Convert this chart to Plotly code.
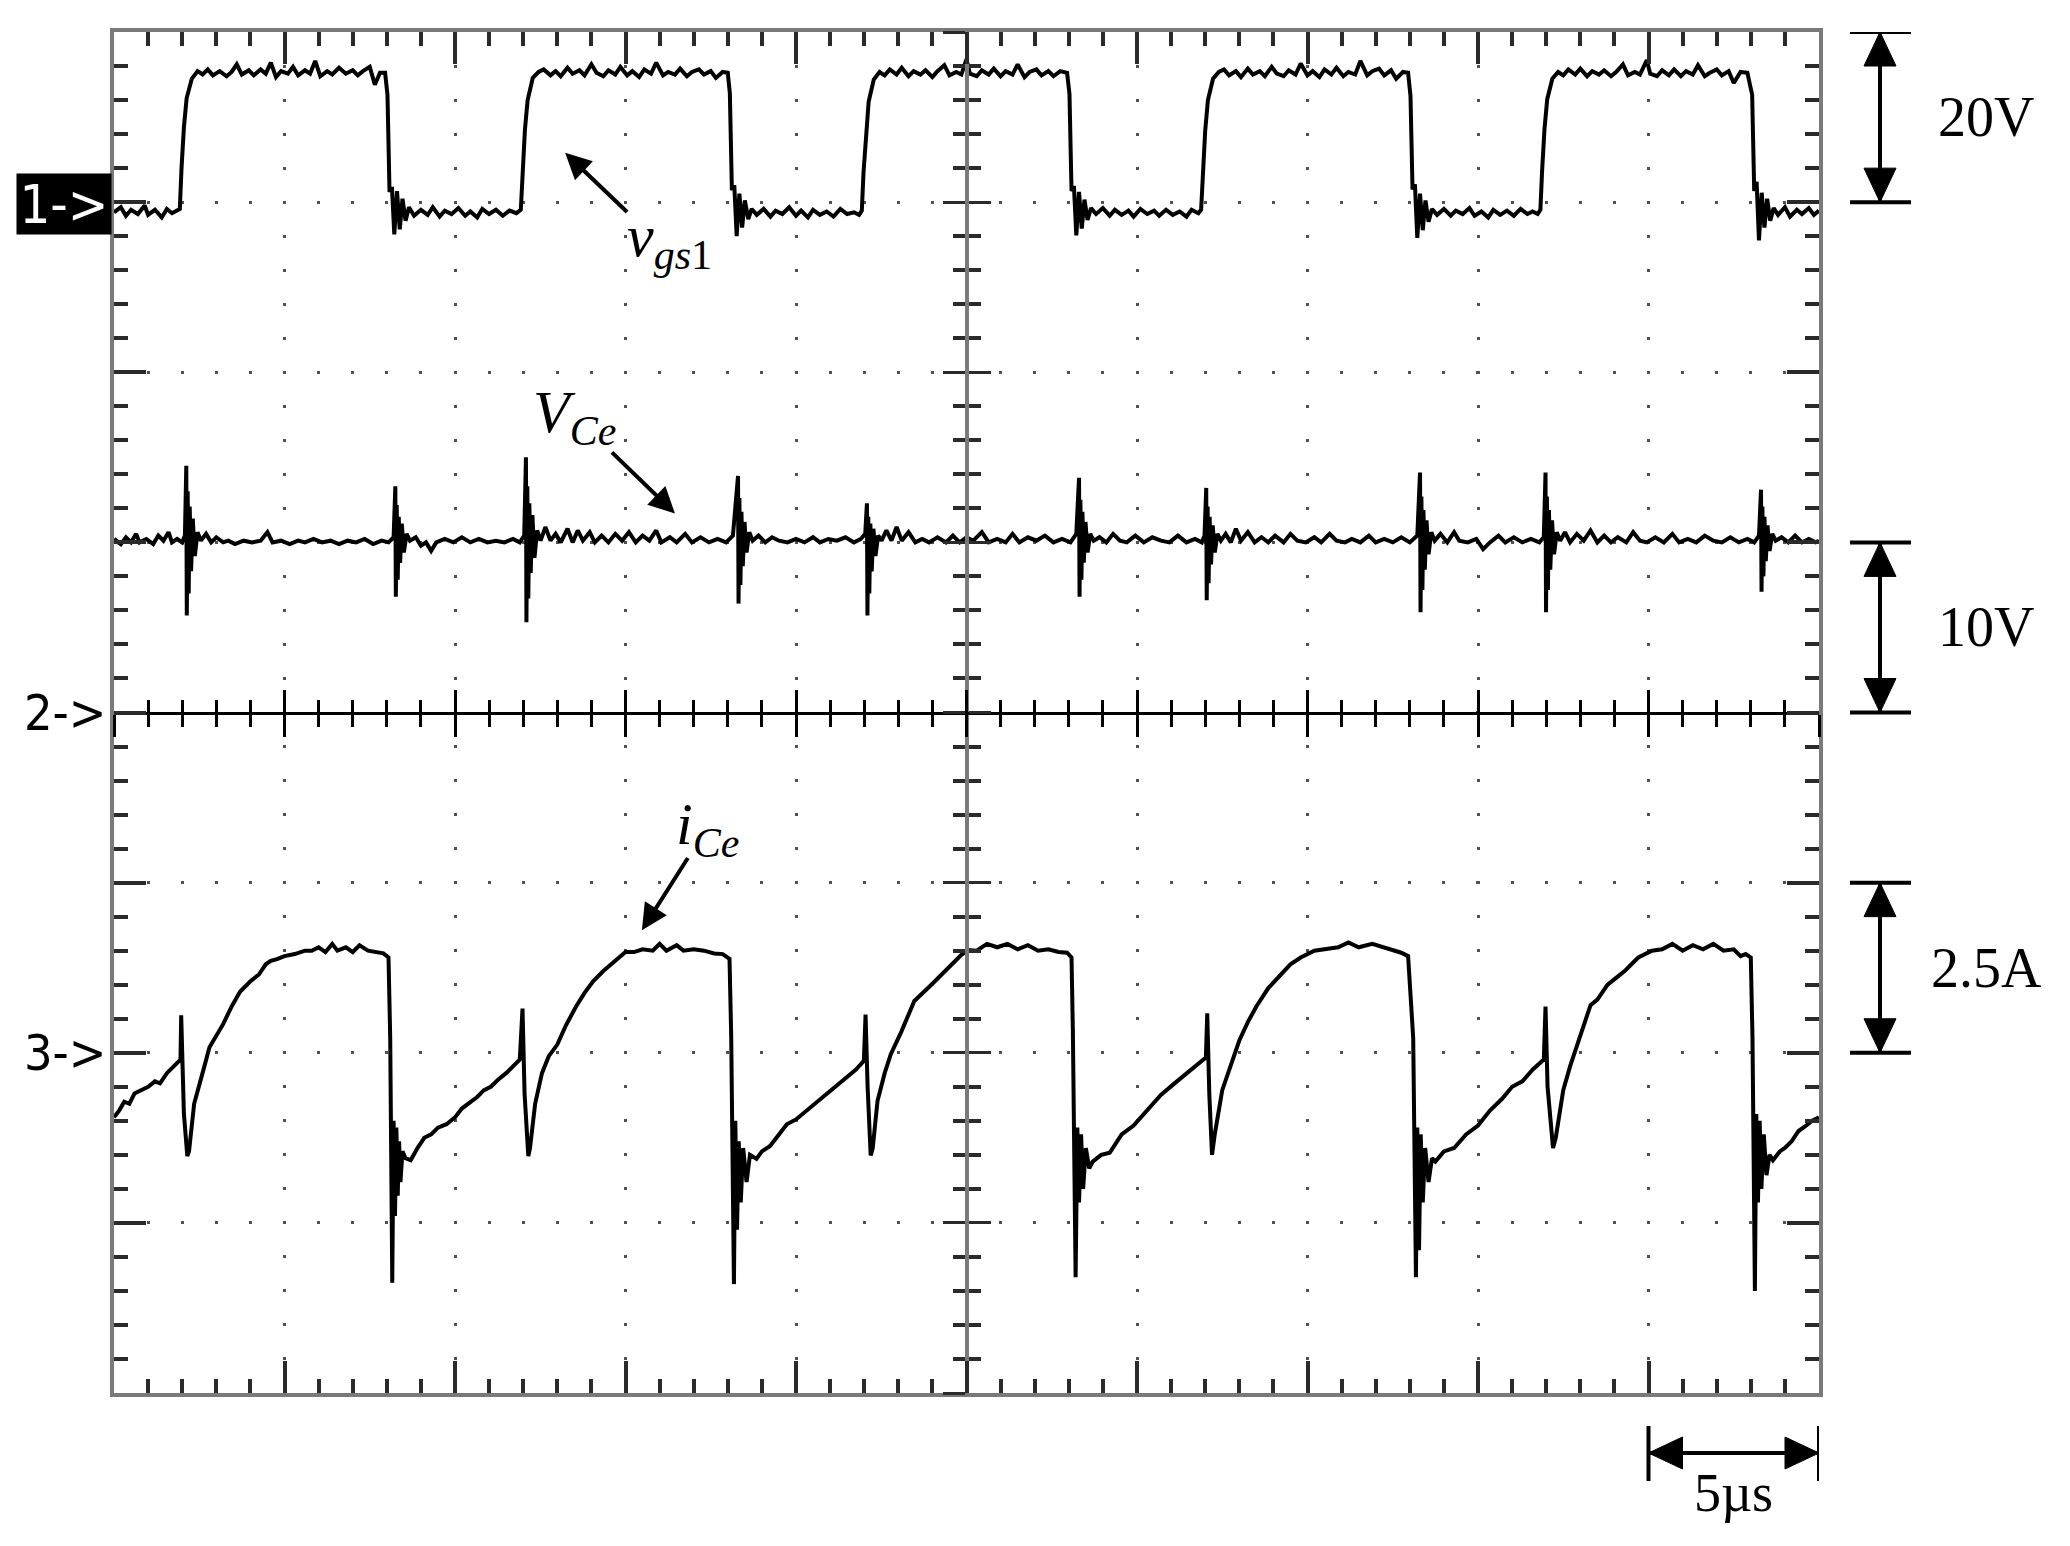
import plotly.graph_objects as go

# time base: 5 us/div, ten divisions
time_range = [0, 50]

# ch1 v_gs1 [V], 20 V/div, ground one division below the top
vgs_t = [0.0, 0.2, 0.35, 0.5, 0.7, 0.9, 1.0, 1.2, 1.4, 1.55, 1.7, 1.85,
         1.93, 1.98, 2.05, 2.13, 2.28, 2.45,
         2.6, 2.75, 2.9, 3.1, 3.3, 3.45, 3.6, 3.75, 3.95, 4.1, 4.3, 4.45, 4.6, 4.75, 4.9, 5.1, 5.25,
         5.4, 5.6, 5.75, 5.9, 6.05, 6.25, 6.4, 6.6, 6.8, 7.0, 7.15, 7.3, 7.5, 7.65, 7.8, 7.95,
         8.02, 8.08, 8.15, 8.22, 8.3, 8.38, 8.46, 8.55, 8.65,
         8.8, 9.0, 9.2, 9.35, 9.55, 9.7, 9.9, 10.1, 10.3, 10.45, 10.65, 10.8, 11.0, 11.2, 11.4, 11.6, 11.8,
         11.93, 11.98, 12.05, 12.13, 12.28, 12.45,
         12.6, 12.8, 12.95, 13.1, 13.3, 13.45, 13.65, 13.8, 14.0, 14.15, 14.35, 14.5, 14.7, 14.85, 15.05, 15.2,
         15.4, 15.55, 15.75, 15.9, 16.1, 16.25, 16.45, 16.6, 16.8, 16.95, 17.15, 17.3, 17.5, 17.65, 17.85, 18.0,
         18.06, 18.12, 18.19, 18.26, 18.34, 18.42, 18.5, 18.6, 18.7,
         18.85, 19.05, 19.25, 19.4, 19.6, 19.8, 20.0, 20.15, 20.35, 20.5, 20.7, 20.9, 21.1, 21.3, 21.5, 21.7, 21.85,
         21.93, 21.98, 22.05, 22.13, 22.28, 22.45,
         22.6, 22.75, 22.95, 23.1, 23.3, 23.45, 23.65, 23.8, 24.0, 24.15, 24.35, 24.5, 24.7, 24.85, 25.0, 25.1,
         25.3, 25.45, 25.65, 25.8, 26.0, 26.15, 26.35, 26.5, 26.7, 26.85, 27.05, 27.2, 27.4, 27.55, 27.75, 27.95,
         28.02, 28.08, 28.15, 28.22, 28.3, 28.38, 28.46, 28.55, 28.65,
         28.8, 29.0, 29.2, 29.35, 29.55, 29.75, 29.9, 30.1, 30.3, 30.5, 30.65, 30.85, 31.05, 31.25, 31.45, 31.6, 31.8,
         31.88, 31.93, 32.0, 32.08, 32.23, 32.4,
         32.55, 32.7, 32.9, 33.05, 33.25, 33.4, 33.6, 33.75, 33.95, 34.1, 34.3, 34.45, 34.65, 34.8, 35.0, 35.15,
         35.35, 35.5, 35.7, 35.85, 36.05, 36.2, 36.4, 36.55, 36.75, 36.9, 37.1, 37.25, 37.45, 37.6, 37.8, 37.95,
         38.02, 38.08, 38.15, 38.22, 38.3, 38.38, 38.46, 38.55, 38.65,
         38.8, 39.0, 39.2, 39.35, 39.55, 39.75, 39.9, 40.1, 40.3, 40.45, 40.65, 40.85, 41.05, 41.25, 41.45, 41.6, 41.75,
         41.83, 41.88, 41.95, 42.03, 42.18, 42.35,
         42.5, 42.65, 42.85, 43.0, 43.2, 43.35, 43.55, 43.7, 43.9, 44.05, 44.25, 44.4, 44.6, 44.75, 44.95, 45.05,
         45.25, 45.4, 45.6, 45.75, 45.95, 46.1, 46.3, 46.45, 46.65, 46.8, 47.0, 47.15, 47.35, 47.5, 47.7, 47.9,
         48.04, 48.1, 48.17, 48.24, 48.32, 48.4, 48.48, 48.57, 48.67,
         48.8, 49.0, 49.15, 49.35, 49.5, 49.7, 49.85, 50.0]
vgs_v = [-1.2, -0.6, -1.6, -0.9, -1.4, -0.4, -1.5, -0.9, -1.8, -0.8, -1.3, -1.0,
         -0.8, 4.0, 8.8, 12.2, 14.5, 15.4,
         15.0, 15.6, 14.9, 15.4, 14.8, 15.3, 16.2, 15.0, 15.5, 14.9, 15.6, 15.1, 16.4, 14.7, 15.4, 15.1, 15.9,
         14.9, 15.5, 15.1, 16.6, 14.8, 15.4, 15.0, 15.8, 15.1, 15.5, 14.9, 15.4, 15.9, 13.8, 15.2, 15.2,
         12.6, 1.2, 1.8, -3.8, 1.3, -3.2, 0.4, -2.2, -0.6,
         -1.6, -0.9, -1.5, -0.6, -1.7, -1.0, -1.4, -0.7, -1.6, -1.1, -1.8, -0.8, -1.4, -0.9, -1.6, -1.0, -1.3,
         -0.9, 3.8, 8.5, 12.0, 14.6, 15.3,
         15.6, 14.9, 15.4, 14.8, 15.8, 15.1, 15.5, 14.9, 16.2, 15.2, 14.8, 15.5, 15.0, 15.9, 14.9, 15.4,
         14.7, 15.6, 15.1, 16.4, 14.9, 15.3, 15.0, 15.7, 14.8, 15.3, 15.6, 15.0, 15.4, 14.6, 15.3, 15.2,
         12.8, 1.4, 2.0, -4.0, 1.0, -3.0, 0.2, -2.0, -0.8,
         -1.5, -0.8, -1.7, -1.0, -1.4, -0.6, -1.6, -1.0, -1.8, -0.9, -1.5, -1.1, -1.7, -0.8, -1.4, -1.2, -1.5,
         -1.0, 3.5, 8.2, 11.8, 14.4, 15.3,
         14.9, 15.6, 15.0, 15.8, 14.8, 15.4, 15.0, 15.5, 14.7, 15.4, 16.1, 14.9, 15.3, 15.0, 16.8, 15.1,
         14.8, 15.5, 15.0, 15.7, 14.8, 15.4, 15.0, 16.2, 14.7, 15.3, 15.6, 14.9, 15.4, 14.8, 15.4, 15.2,
         12.7, 1.3, 1.9, -3.9, 1.2, -3.1, 0.3, -2.1, -0.7,
         -1.4, -0.7, -1.6, -0.9, -1.5, -1.0, -1.7, -0.8, -1.4, -1.0, -1.6, -0.9, -1.5, -1.1, -1.7, -0.9, -1.3,
         -0.9, 3.6, 8.4, 12.0, 14.5, 15.3,
         15.6, 14.9, 15.4, 14.7, 15.7, 15.0, 15.4, 14.8, 15.9, 15.1, 14.8, 15.5, 15.0, 16.3, 14.9, 15.4,
         14.7, 15.6, 15.0, 15.8, 14.8, 15.3, 15.0, 16.6, 14.9, 15.4, 15.7, 14.9, 15.5, 14.5, 15.3, 15.2,
         12.5, 1.5, 2.1, -4.2, 1.0, -3.3, 0.2, -2.3, -0.8,
         -1.5, -0.8, -1.6, -1.0, -1.4, -0.7, -1.6, -1.1, -1.8, -0.9, -1.5, -1.0, -1.6, -0.8, -1.4, -1.1, -1.4,
         -0.9, 3.7, 8.6, 12.1, 14.5, 15.3,
         14.9, 15.6, 15.0, 15.7, 14.8, 15.4, 15.0, 15.5, 14.8, 15.3, 16.2, 14.9, 15.3, 15.0, 16.7, 15.1,
         14.8, 15.5, 14.9, 15.6, 14.8, 15.4, 15.0, 16.1, 14.8, 15.2, 15.6, 14.9, 15.4, 14.0, 15.3, 15.2,
         12.6, 1.3, 2.4, -4.5, 1.1, -3.0, 0.4, -2.2, -0.7,
         -1.5, -0.6, -1.7, -0.9, -1.4, -0.7, -1.5, -1.0]

# ch2 V_Ce [V], 10 V/div, ground on the centre line
vce_t = [0.0, 0.2, 0.35, 0.5, 0.65, 0.75, 0.95, 1.15, 1.3, 1.45, 1.6, 1.7, 1.85, 2.0, 2.08,
         2.12, 2.135, 2.16, 2.19, 2.22, 2.26, 2.31, 2.37, 2.45, 2.55,
         2.7, 2.85, 3.0, 3.2, 3.35, 3.55, 3.8, 4.05, 4.3, 4.5, 4.65, 4.9, 5.15, 5.4, 5.6, 5.85, 6.1, 6.35,
         6.6, 6.85, 7.1, 7.35, 7.6, 7.85, 8.05, 8.2,
         8.25, 8.265, 8.29, 8.32, 8.35, 8.39, 8.44, 8.5, 8.58, 8.68,
         8.85, 9.0, 9.15, 9.3, 9.45, 9.7, 9.95, 10.2, 10.45, 10.7, 10.95, 11.2, 11.45, 11.7, 11.9, 12.03,
         12.08, 12.095, 12.12, 12.15, 12.18, 12.22, 12.27, 12.33, 12.41, 12.51,
         12.65, 12.8, 12.95, 13.1, 13.3, 13.45, 13.6, 13.75, 13.95, 14.1, 14.3, 14.5, 14.7, 14.9, 15.1, 15.3,
         15.5, 15.7, 15.9, 16.05, 16.3, 16.5, 16.75, 16.95, 17.2, 17.45, 17.7, 17.95, 18.15,
         18.3, 18.315, 18.34, 18.37, 18.4, 18.44, 18.49, 18.55, 18.63, 18.73,
         18.9, 19.1, 19.3, 19.5, 19.75, 20.0, 20.25, 20.5, 20.7, 20.95, 21.2, 21.45, 21.7, 21.9, 22.03,
         22.08, 22.095, 22.12, 22.15, 22.18, 22.22, 22.27, 22.33, 22.41, 22.51,
         22.65, 22.8, 22.95, 23.1, 23.3, 23.5, 23.7, 23.9, 24.15, 24.4, 24.6, 24.8, 25.0, 25.2, 25.45, 25.65,
         25.9, 26.15, 26.35, 26.55, 26.8, 27.05, 27.3, 27.55, 27.8, 28.05, 28.22,
         28.3, 28.315, 28.34, 28.37, 28.4, 28.44, 28.49, 28.55, 28.63, 28.73,
         28.9, 29.1, 29.3, 29.5, 29.7, 29.95, 30.2, 30.45, 30.7, 30.95, 31.2, 31.45, 31.7, 31.9, 31.98,
         32.03, 32.045, 32.07, 32.1, 32.13, 32.17, 32.22, 32.28, 32.36, 32.46,
         32.6, 32.75, 32.9, 33.05, 33.25, 33.45, 33.65, 33.85, 34.05, 34.3, 34.5, 34.7, 34.95, 35.2, 35.4, 35.65,
         35.85, 36.1, 36.3, 36.55, 36.8, 37.0, 37.25, 37.5, 37.75, 38.0, 38.22,
         38.3, 38.315, 38.34, 38.37, 38.4, 38.44, 38.49, 38.55, 38.63, 38.73,
         38.9, 39.1, 39.3, 39.45, 39.7, 39.95, 40.15, 40.35, 40.6, 40.8, 41.05, 41.3, 41.55, 41.8, 41.93,
         41.98, 41.995, 42.02, 42.05, 42.08, 42.12, 42.17, 42.23, 42.31, 42.41,
         42.55, 42.7, 42.9, 43.1, 43.3, 43.5, 43.7, 43.9, 44.1, 44.35, 44.55, 44.75, 44.95, 45.2, 45.45, 45.7,
         45.9, 46.15, 46.4, 46.65, 46.9, 47.15, 47.4, 47.65, 47.9, 48.1, 48.24,
         48.3, 48.315, 48.34, 48.37, 48.4, 48.44, 48.49, 48.55, 48.63, 48.73,
         48.9, 49.1, 49.3, 49.5, 49.7, 49.9, 50.0]
vce_v = [10.2, 9.9, 10.3, 10.0, 10.5, 10.0, 10.2, 9.9, 10.4, 10.1, 10.6, 10.0, 10.2, 10.0, 10.4,
         14.5, 5.7, 13.0, 7.0, 12.1, 8.3, 11.4, 9.2, 10.6, 10.1,
         10.5, 10.0, 10.3, 10.0, 10.1, 9.9, 10.1, 10.0, 10.1, 10.6, 10.0, 10.1, 9.9, 10.1, 10.0, 10.2, 10.0, 10.1,
         9.9, 10.1, 10.0, 10.2, 9.9, 10.1, 10.0, 10.3,
         13.3, 6.8, 12.2, 7.8, 11.5, 8.8, 11.1, 9.4, 10.5, 10.1,
         10.3, 9.8, 10.0, 9.5, 10.0, 10.2, 10.0, 10.3, 10.0, 10.2, 10.0, 10.1, 10.0, 10.2, 10.0, 10.4,
         15.0, 5.3, 13.3, 6.7, 12.3, 8.2, 11.6, 9.1, 10.7, 10.1,
         10.9, 10.1, 10.5, 10.0, 10.8, 10.0, 10.7, 10.1, 10.6, 10.0, 10.4, 10.0, 10.5, 10.1, 10.6, 10.0,
         10.4, 10.1, 10.7, 10.0, 10.3, 10.0, 10.5, 10.0, 10.3, 10.0, 10.2, 10.0, 10.4,
         13.9, 6.4, 12.6, 7.5, 11.8, 8.6, 11.2, 9.4, 10.6, 10.1,
         10.4, 10.0, 10.3, 10.1, 10.0, 10.2, 10.0, 10.3, 10.0, 10.2, 10.1, 10.3, 10.0, 10.2, 10.5,
         12.3, 5.7, 11.5, 7.0, 11.1, 8.3, 10.8, 9.2, 10.4, 10.1,
         10.7, 10.1, 10.9, 10.1, 10.6, 10.0, 10.2, 10.0, 10.3, 10.0, 10.4, 10.0, 10.3, 10.1, 10.6, 10.0,
         10.2, 10.0, 10.5, 10.0, 10.3, 10.1, 10.4, 10.0, 10.2, 10.0, 10.5,
         13.8, 6.8, 12.5, 7.8, 11.8, 8.8, 11.2, 9.4, 10.5, 10.1,
         10.3, 10.0, 10.5, 10.1, 10.0, 10.4, 10.0, 10.3, 10.1, 10.0, 10.4, 10.0, 10.2, 10.0, 10.4,
         13.2, 6.6, 12.1, 7.6, 11.5, 8.7, 11.0, 9.4, 10.5, 10.1,
         10.5, 10.0, 10.8, 10.1, 10.6, 10.0, 10.3, 10.0, 10.4, 10.0, 10.5, 10.1, 10.0, 10.3, 10.0, 10.5,
         10.1, 10.0, 10.2, 10.0, 10.4, 10.0, 10.2, 10.0, 10.3, 10.0, 10.4,
         14.1, 5.9, 12.7, 7.2, 11.9, 8.4, 11.3, 9.3, 10.6, 10.1,
         10.5, 10.0, 10.6, 10.1, 10.0, 10.2, 9.6, 10.0, 10.4, 10.0, 10.3, 10.0, 10.2, 10.0, 10.3,
         14.1, 5.9, 12.7, 7.2, 11.9, 8.4, 11.3, 9.3, 10.6, 10.1,
         10.6, 10.0, 10.5, 10.1, 10.7, 10.0, 10.4, 10.0, 10.3, 10.0, 10.6, 10.1, 10.0, 10.3, 10.0, 10.5,
         10.0, 10.2, 10.0, 10.4, 10.1, 10.0, 10.3, 10.0, 10.2, 10.0, 10.4,
         13.1, 7.1, 12.1, 8.0, 11.5, 8.9, 11.0, 9.5, 10.5, 10.1,
         10.3, 10.0, 10.4, 10.0, 10.2, 10.0, 10.1]

# ch3 i_Ce [A], 2.5 A/div, ground two divisions above the bottom
ice_t = [0.0, 0.15, 0.3, 0.45, 0.6, 0.8, 1.0, 1.2, 1.35, 1.55, 1.75, 1.9,
         1.95, 1.97, 2.05, 2.15, 2.2, 2.35, 2.5, 2.65, 2.8, 3.0, 3.2, 3.45, 3.7, 4.0, 4.25, 4.45, 4.6, 4.8,
         5.0, 5.3, 5.6, 5.8, 6.0, 6.2, 6.4, 6.55, 6.8, 7.0, 7.2, 7.45, 7.7, 7.9, 8.05,
         8.1, 8.16, 8.2, 8.24, 8.28, 8.32, 8.36, 8.4, 8.46, 8.55, 8.7, 8.9, 9.1, 9.3, 9.5, 9.75, 10.0, 10.2,
         10.4, 10.65, 10.85, 11.05, 11.3, 11.5, 11.7, 11.9,
         11.98, 12.04, 12.15, 12.2, 12.35, 12.55, 12.75, 13.0, 13.25, 13.55, 13.8, 14.05, 14.35, 14.7, 15.0,
         15.25, 15.5, 15.8, 16.0, 16.2, 16.5, 16.7, 17.0, 17.3, 17.6, 17.85, 18.05,
         18.1, 18.18, 18.22, 18.27, 18.32, 18.38, 18.45, 18.55, 18.65, 18.84, 19.0, 19.24, 19.5, 19.73, 20.0,
         20.32, 20.6, 20.91, 21.2, 21.5, 21.75, 21.99,
         22.04, 22.1, 22.19, 22.25, 22.39, 22.6, 22.78, 23.08, 23.47, 23.97, 24.46, 24.85, 25.05, 25.3, 25.6,
         25.9, 26.2, 26.5, 26.8, 27.1, 27.4, 27.7, 27.95, 28.08,
         28.12, 28.2, 28.25, 28.3, 28.36, 28.42, 28.5, 28.6, 28.7, 28.95, 29.2, 29.55, 29.9, 30.3, 30.7,
         31.1, 31.45, 31.8, 32.02,
         32.06, 32.12, 32.2, 32.28, 32.5, 32.75, 33.0, 33.25, 33.5, 33.85, 34.2, 34.5, 34.8, 35.2, 35.5,
         35.9, 36.2, 36.5, 36.9, 37.2, 37.5, 37.75, 37.95,
         38.1, 38.18, 38.22, 38.27, 38.32, 38.38, 38.45, 38.55, 38.65, 38.75, 39.0, 39.3, 39.65, 40.0, 40.35,
         40.7, 41.0, 41.3, 41.6, 41.93,
         41.98, 42.04, 42.2, 42.28, 42.5, 42.7, 42.9, 43.1, 43.3, 43.5, 43.8, 44.05, 44.3, 44.5, 44.7,
         45.1, 45.4, 45.7, 46.0, 46.3, 46.6, 46.9, 47.2, 47.5, 47.7, 47.85, 48.0,
         48.05, 48.12, 48.16, 48.21, 48.26, 48.31, 48.38, 48.46, 48.55, 48.65, 48.85, 49.0, 49.2, 49.4,
         49.6, 49.8, 50.0]
ice_v = [-0.95, -0.85, -0.72, -0.75, -0.6, -0.55, -0.5, -0.42, -0.45, -0.3, -0.2, -0.12,
         -0.1, 0.55, -0.9, -1.52, -1.45, -0.75, -0.45, -0.2, 0.08, 0.25, 0.42, 0.68, 0.9, 1.05, 1.15, 1.3, 1.35, 1.38,
         1.42, 1.45, 1.5, 1.5, 1.55, 1.48, 1.6, 1.5, 1.55, 1.48, 1.58, 1.5, 1.48, 1.46, 1.4,
         0.22, -3.38, -1.0, -2.4, -1.1, -2.1, -1.3, -1.9, -1.45, -1.55, -1.58, -1.4, -1.25, -1.2, -1.1, -1.05, -0.95, -0.82,
         -0.75, -0.65, -0.55, -0.5, -0.38, -0.3, -0.2, -0.1,
         0.65, -0.6, -1.52, -1.4, -0.75, -0.3, -0.05, 0.12, 0.4, 0.68, 0.88, 1.05, 1.2, 1.35, 1.48,
         1.48, 1.52, 1.5, 1.6, 1.5, 1.58, 1.5, 1.52, 1.5, 1.46, 1.45, 1.38,
         0.24, -3.4, -1.0, -2.6, -1.3, -2.2, -1.4, -1.9, -1.5, -1.56, -1.45, -1.37, -1.2, -1.05, -0.98,
         -0.85, -0.72, -0.61, -0.48, -0.37, -0.25, -0.12,
         0.56, -0.5, -1.51, -1.4, -0.71, -0.3, -0.02, 0.3, 0.76, 1.0, 1.24, 1.44, 1.51, 1.5, 1.6,
         1.55, 1.6, 1.52, 1.58, 1.5, 1.52, 1.48, 1.47, 1.4,
         0.3, -3.3, -1.1, -2.2, -1.2, -2.0, -1.4, -1.7, -1.6, -1.5, -1.47, -1.2, -1.07, -0.85, -0.62,
         -0.45, -0.3, -0.15, -0.07,
         0.58, -0.6, -1.5, -1.2, -0.55, -0.2, 0.18, 0.45, 0.68, 0.95, 1.15, 1.3, 1.4, 1.5, 1.52,
         1.55, 1.62, 1.55, 1.6, 1.55, 1.5, 1.47, 1.42,
         0.22, -3.3, -1.1, -2.9, -1.2, -2.2, -1.4, -1.9, -1.55, -1.6, -1.45, -1.4, -1.2, -1.07, -0.85,
         -0.68, -0.5, -0.42, -0.25, -0.1,
         0.68, -0.5, -1.4, -1.25, -0.55, -0.2, 0.1, 0.4, 0.7, 0.78, 1.0, 1.1, 1.2, 1.3, 1.4,
         1.5, 1.52, 1.6, 1.5, 1.58, 1.52, 1.6, 1.5, 1.52, 1.42, 1.45, 1.4,
         0.2, -3.5, -0.9, -2.2, -1.0, -2.0, -1.2, -1.8, -1.5, -1.58, -1.45, -1.4, -1.3, -1.15,
         -1.08, -1.0, -0.95]

# ch2 sits on the main (graticule) axis, ch1 and ch3 on overlays
ch_axes = ["y2", "y", "y3"]
ch_ranges = [[-140, 20], [-40, 40], [-5, 15]]
ch_markers = ["1->", "2->", "3->"]
scale_text = ["20V", "10V", "2.5A"]
scale_span = [20, 10, 2.5]
time_bar = [45, 50]
time_text = "5µs"

for a, b in [(vgs_t, vgs_v), (vce_t, vce_v), (ice_t, ice_v)]:
    assert len(a) == len(b), (len(a), len(b))

FRAME = "#7a7a7a"
TICK = "#2a2a2a"
GRID = "#505050"
SERIF = "Liberation Serif, Times New Roman, serif"
SCOPE = "Liberation Sans Narrow, DejaVu Sans Condensed, Arial Narrow, DejaVu Sans, sans-serif"

# the page body keeps its 8px margin, so the figure is shrunk by that much
W, H = 2054, 1530
ML, MR, MT, MB = 106, 243, 24, 145
pw, ph = W - ML - MR, H - MT - MB
xdot, ydot = pw / 50, ph / 40

fig = go.Figure()
for t, v, ax in zip([vgs_t, vce_t, ice_t], [vgs_v, vce_v, ice_v], ch_axes):
    fig.add_trace(go.Scatter(x=t, y=v, yaxis=ax, mode="lines",
                             line=dict(color="black", width=4),
                             hoverinfo="skip", showlegend=False))
# empty traces so the centre-cross axes get their own overlay subplots
for xa, ya in [("x2", "y"), ("x3", "y"), ("x", "y4"), ("x", "y5")]:
    fig.add_trace(go.Scatter(x=[], y=[], xaxis=xa, yaxis=ya, mode="lines",
                             hoverinfo="skip", showlegend=False))

frame = dict(showline=True, linecolor=FRAME, linewidth=4, mirror="ticks",
             ticks="inside", ticklen=32, tickwidth=4, tickcolor=TICK,
             showticklabels=False, zeroline=False, showgrid=True,
             gridcolor=GRID, gridwidth=3, fixedrange=True)
minor_frame = dict(ticks="inside", ticklen=14, tickwidth=4, tickcolor=TICK, showgrid=False)

cross = dict(showline=True, showticklabels=False, zeroline=False, showgrid=False,
             anchor="free", position=0.5, fixedrange=True, tickwidth=3, ticklen=22)

layout = dict(
    width=W, height=H, autosize=False,
    margin=dict(l=ML, r=MR, t=MT, b=MB, pad=0),
    paper_bgcolor="white", plot_bgcolor="rgba(0,0,0,0)",
    showlegend=False, hovermode=False,
    xaxis=dict(frame, range=time_range, tick0=0, dtick=5,
               griddash=f"1.5px,{ydot - 3:.3f}px,1.5px,0px",
               minor=dict(minor_frame, tick0=0, dtick=1)),
    yaxis=dict(frame, range=ch_ranges[1], tick0=0, dtick=10,
               griddash=f"1.5px,{xdot - 3:.3f}px,1.5px,0px",
               minor=dict(minor_frame, tick0=0, dtick=2)),
)
for name, side_ticks in [("xaxis2", "inside"), ("xaxis3", "outside")]:
    layout[name] = dict(cross, overlaying="x", range=time_range, tick0=0, dtick=5,
                        linecolor="black", linewidth=3, ticks=side_ticks, tickcolor="black",
                        minor=dict(ticks=side_ticks, tick0=0, dtick=1, ticklen=12,
                                   tickwidth=3, tickcolor="black"))
for name, side_ticks in [("yaxis4", "inside"), ("yaxis5", "outside")]:
    layout[name] = dict(cross, overlaying="y", range=ch_ranges[1], tick0=0, dtick=10,
                        linecolor=FRAME, linewidth=4, ticks=side_ticks, tickcolor=TICK,
                        minor=dict(ticks=side_ticks, tick0=0, dtick=2, ticklen=12,
                                   tickwidth=4, tickcolor=TICK))
for ax, rng in [("yaxis2", ch_ranges[0]), ("yaxis3", ch_ranges[2])]:
    layout[ax] = dict(overlaying="y", anchor="x", range=rng, visible=False, fixedrange=True)
fig.update_layout(**layout)

shapes = []
annotations = []

# amplitude scale bars on the right, drawn in each channel's own units
for ax, span, txt in zip(ch_axes, scale_span, scale_text):
    bar = dict(xref="paper", xsizemode="pixel", xanchor=1, yref=ax)
    shapes.append(dict(bar, type="line", x0=61, x1=61, y0=0, y1=span,
                       line=dict(color="black", width=4)))
    for yv in (0, span):
        shapes.append(dict(bar, type="line", x0=31, x1=92, y0=yv, y1=yv,
                           line=dict(color="black", width=4)))
    shapes.append(dict(bar, type="path", ysizemode="pixel", yanchor=span,
                       path="M61,0 L45,-34 L77,-34 Z", fillcolor="black",
                       line=dict(color="black", width=1)))
    shapes.append(dict(bar, type="path", ysizemode="pixel", yanchor=0,
                       path="M61,0 L45,34 L77,34 Z", fillcolor="black",
                       line=dict(color="black", width=1)))
    annotations.append(dict(xref="paper", x=1, xshift=167, yref=ax, y=span / 2,
                            text=txt, showarrow=False, xanchor="center", yanchor="middle",
                            font=dict(family=SERIF, size=56, color="black")))

# time scale bar under the lower right corner
tb = dict(xref="x", yref="paper", ysizemode="pixel", yanchor=0)
shapes.append(dict(tb, type="line", x0=time_bar[0], x1=time_bar[1], y0=-60, y1=-60,
                   line=dict(color="black", width=4)))
for xv in time_bar:
    shapes.append(dict(tb, type="line", x0=xv, x1=xv, y0=-33, y1=-88,
                       line=dict(color="black", width=4)))
shapes.append(dict(tb, type="path", xsizemode="pixel", xanchor=time_bar[0],
                   path="M0,-60 L34,-44 L34,-76 Z", fillcolor="black",
                   line=dict(color="black", width=1)))
shapes.append(dict(tb, type="path", xsizemode="pixel", xanchor=time_bar[1],
                   path="M0,-60 L-34,-44 L-34,-76 Z", fillcolor="black",
                   line=dict(color="black", width=1)))
annotations.append(dict(xref="x", x=sum(time_bar) / 2, yref="paper", y=0, yshift=-100,
                        text=time_text, showarrow=False, xanchor="center", yanchor="middle",
                        font=dict(family=SERIF, size=54, color="black")))

# channel ground markers
for i, (ax, mk) in enumerate(zip(ch_axes, ch_markers)):
    if i == 0:
        annotations.append(dict(xref="paper", x=0, xshift=-2, yref=ax, y=0, yshift=-2,
                                text=mk, showarrow=False, xanchor="right", yanchor="middle",
                                bgcolor="black", width=90, height=56, borderpad=2,
                                font=dict(family=SCOPE, size=54, color="white")))
    else:
        annotations.append(dict(xref="paper", x=0, xshift=-5, yref=ax, y=0,
                                text=mk, showarrow=False, xanchor="right", yanchor="middle",
                                font=dict(family=SCOPE, size=50, color="black")))

# waveform names and pointer arrows
labels = [
    ("<i>v</i><sub><i>gs</i>1</sub>", 16.3, -4.5, "y2"),
    ("<i>V</i><sub><i>Ce</i></sub>", 13.5, 17.4, "y"),
    ("<i>i</i><sub><i>Ce</i></sub>", 17.4, 3.3, "y3"),
]
for txt, xv, yv, ax in labels:
    annotations.append(dict(xref="x", x=xv, yref=ax, y=yv, text=txt, showarrow=False,
                            xanchor="center", yanchor="middle",
                            font=dict(family=SERIF, size=60, color="black")))
pointers = [
    (13.23, 5.8, "y2", 65, 62),
    (16.45, 11.7, "y", -66, -64),
    (15.48, 1.8, "y3", 49, -77),
]
for xv, yv, ax, dx, dy in pointers:
    annotations.append(dict(xref="x", x=xv, yref=ax, y=yv, ax=dx, ay=dy, text=" ",
                            showarrow=True, arrowhead=2, arrowsize=1.3, arrowwidth=4,
                            arrowcolor="black", standoff=0))

fig.update_layout(shapes=shapes, annotations=annotations)
fig.write_html("out.html", config={"displayModeBar": False})
